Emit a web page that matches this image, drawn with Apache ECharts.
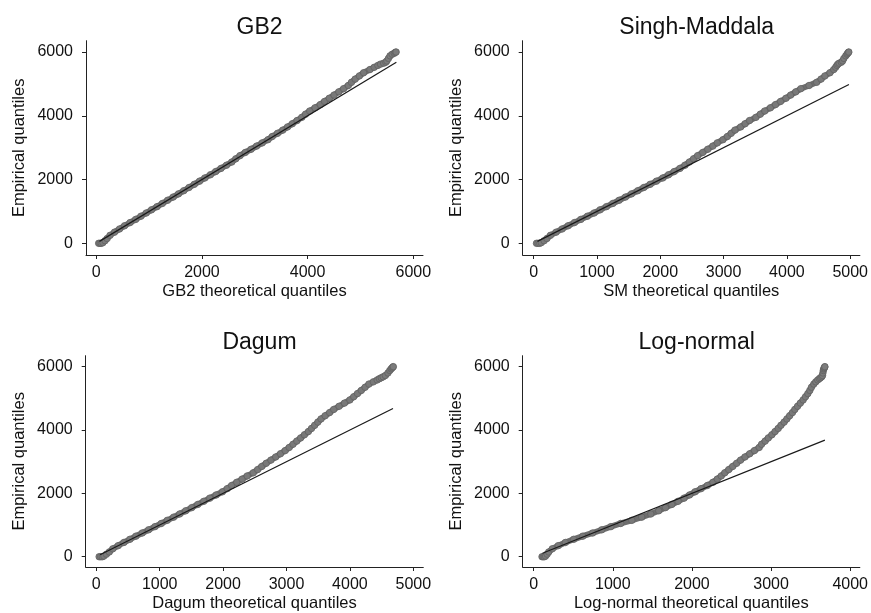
<!DOCTYPE html>
<html>
<head>
<meta charset="utf-8">
<script src="https://cdn.jsdelivr.net/npm/echarts@6/dist/echarts.min.js"></script>
<style>
html,body{margin:0;padding:0;background:#fff;}
#chart{width:871px;height:613px;}
</style>
</head>
<body>
<div id="chart"></div>
<script>
// Empirical quantiles (shared by all four panels)
const empirical = [0,0,0,20,80,150,
  250,350,450,550,650,750,850,950,1050,1150,
  1250,1350,1450,1550,1650,1750,1850,1950,2050,2150,
  2250,2350,2450,2550,2650,2750,2850,2950,3050,3150,
  3250,3350,3450,3550,3650,3750,3850,3950,4050,4150,
  4250,4350,4450,4550,4650,4750,4850,4950,
  5050,5150,5250,5350,5450,
  5520,5580,5620,5650,5680,5720,5800,5880,5930,5960,5990,6000];

// Theoretical quantiles for each fitted distribution
const gb2Theoretical = [45,70,95,125,165,205,
  260,345,440,535,640,745,845,945,1045,1150,
  1250,1350,1455,1555,1655,1755,1855,1955,2055,2160,
  2260,2360,2465,2565,2640,2720,2820,2930,3035,3140,
  3250,3330,3430,3530,3620,3710,3800,3890,3960,4040,
  4140,4240,4320,4410,4500,4590,4680,4770,
  4830,4900,4980,5060,5180,
  5260,5330,5380,5440,5480,5500,5530,5560,5600,5640,5660,5675];

const smTheoretical = [45,70,95,120,165,210,
  265,355,450,545,645,745,850,955,1050,1150,
  1250,1350,1450,1545,1645,1740,1840,1940,2040,2130,
  2220,2310,2390,2460,2525,2590,2670,2750,2830,2900,
  2990,3060,3120,3180,3270,3340,3410,3510,3580,3650,
  3740,3820,3900,3985,4060,4140,4220,4350,
  4470,4540,4600,4680,4740,
  4770,4790,4805,4825,4860,4880,4900,4930,4950,4960,4972,4978];

const dagumTheoretical = [45,70,95,120,160,205,
  260,345,435,530,625,725,825,925,1025,1120,
  1220,1315,1410,1505,1600,1695,1790,1890,1990,2065,
  2135,2215,2300,2380,2476,2545,2610,2680,2755,2830,
  2905,2980,3043,3103,3163,3223,3283,3345,3395,3445,
  3495,3545,3610,3680,3745,3830,3915,4000,
  4060,4120,4180,4240,4300,
  4370,4430,4465,4495,4525,4560,4600,4630,4650,4665,4678,4685];

const lognormalTheoretical = [105,120,135,150,170,190,
  235,310,400,505,620,745,860,975,1100,1240,
  1365,1480,1580,1665,1745,1825,1900,1970,2040,2115,
  2195,2265,2320,2370,2415,2465,2515,2565,2615,2670,
  2730,2790,2850,2880,2925,2965,3010,3050,3090,3125,
  3165,3200,3235,3270,3300,3335,3370,3405,
  3435,3465,3490,3510,3540,
  3565,3590,3610,3625,3640,3650,3655,3660,3665,3672,3678,3680];

// Reference line (y = x) extents
const gb2Line = [60, 5680];
const smLine = [60, 4980];
const dagumLine = [60, 4680];
const lognormalLine = [110, 3680];

// Titles and axis labels
const panelTitles = ['GB2', 'Singh-Maddala', 'Dagum', 'Log-normal'];
const xAxisNames = ['GB2 theoretical quantiles', 'SM theoretical quantiles', 'Dagum theoretical quantiles', 'Log-normal theoretical quantiles'];
const yAxisName = 'Empirical quantiles';
const xTicks = [[0,2000,4000,6000],[0,1000,2000,3000,4000,5000],[0,1000,2000,3000,4000,5000],[0,1000,2000,3000,4000]];
const yTicks = [0,2000,4000,6000];

const panels = [
  {theo: gb2Theoretical, line: gb2Line},
  {theo: smTheoretical, line: smLine},
  {theo: dagumTheoretical, line: dagumLine},
  {theo: lognormalTheoretical, line: lognormalLine}
];

const FONT = "'Liberation Sans', Arial, Helvetica, sans-serif";
const grids = [
  {left: 86, top: 40.7, width: 337, height: 214.3},
  {left: 522.7, top: 40.7, width: 338, height: 214.3},
  {left: 85.7, top: 355.7, width: 337.6, height: 212.3},
  {left: 522.7, top: 355.7, width: 338, height: 212.3}
];
const xRanges = [[-195, 6184], [-173, 5153], [-167, 5158], [-139, 4122]];
const yRanges = [[-367, 6355], [-367, 6355], [-324, 6346], [-324, 6346]];
const titlePos = [{x: 254.5, y: 11}, {x: 691.7, y: 11}, {x: 254.5, y: 326}, {x: 691.7, y: 326}];

const axisCommon = {
  axisLine: {show: true, onZero: false, lineStyle: {color: '#222', width: 1}},
  axisTick: {show: true, length: 4, lineStyle: {color: '#222', width: 1}},
  splitLine: {show: false},
  nameLocation: 'middle',
  nameTextStyle: {fontSize: 16.5, color: '#111', fontFamily: FONT}
};
const plain = v => String(Math.round(v));

const xAxis = [], yAxis = [], series = [], title = [];
panels.forEach((p, i) => {
  title.push({
    text: panelTitles[i], left: titlePos[i].x, top: titlePos[i].y, textAlign: 'center',
    textStyle: {fontSize: 23, fontWeight: 'normal', color: '#111', fontFamily: FONT}
  });
  xAxis.push(Object.assign({}, axisCommon, {
    type: 'value', gridIndex: i, min: xRanges[i][0], max: xRanges[i][1],
    name: xAxisNames[i], nameGap: 28,
    axisTick: Object.assign({}, axisCommon.axisTick, {customValues: xTicks[i]}),
    axisLabel: {customValues: xTicks[i], formatter: plain, fontSize: 16, color: '#111', margin: 10, fontFamily: FONT}
  }));
  yAxis.push(Object.assign({}, axisCommon, {
    type: 'value', gridIndex: i, min: yRanges[i][0], max: yRanges[i][1],
    name: yAxisName, nameGap: 58,
    axisTick: Object.assign({}, axisCommon.axisTick, {customValues: yTicks}),
    axisLabel: {customValues: yTicks, formatter: plain, fontSize: 16, color: '#111', margin: 13, fontFamily: FONT}
  }));
  const pts = p.theo.map((x, k) => [x, empirical[k]]);
  series.push({
    type: 'line', xAxisIndex: i, yAxisIndex: i, data: pts, showSymbol: false,
    lineStyle: {color: '#6e6e6e', width: 6, cap: 'round', join: 'round'}, z: 1, silent: true
  });
  series.push({
    type: 'scatter', xAxisIndex: i, yAxisIndex: i, data: pts, symbol: 'circle', symbolSize: 6.5,
    itemStyle: {color: '#7c7c7c', borderColor: '#626262', borderWidth: 1}, z: 2, silent: true
  });
  series.push({
    type: 'line', xAxisIndex: i, yAxisIndex: i,
    data: [[p.line[0], p.line[0]], [p.line[1], p.line[1]]], showSymbol: false,
    lineStyle: {color: '#1a1a1a', width: 1.2}, z: 3, silent: true
  });
});

const chart = echarts.init(document.getElementById('chart'), null, {renderer: 'canvas'});
chart.setOption({
  animation: false,
  backgroundColor: '#fff',
  title: title,
  grid: grids,
  xAxis: xAxis,
  yAxis: yAxis,
  series: series
});
</script>
</body>
</html>
